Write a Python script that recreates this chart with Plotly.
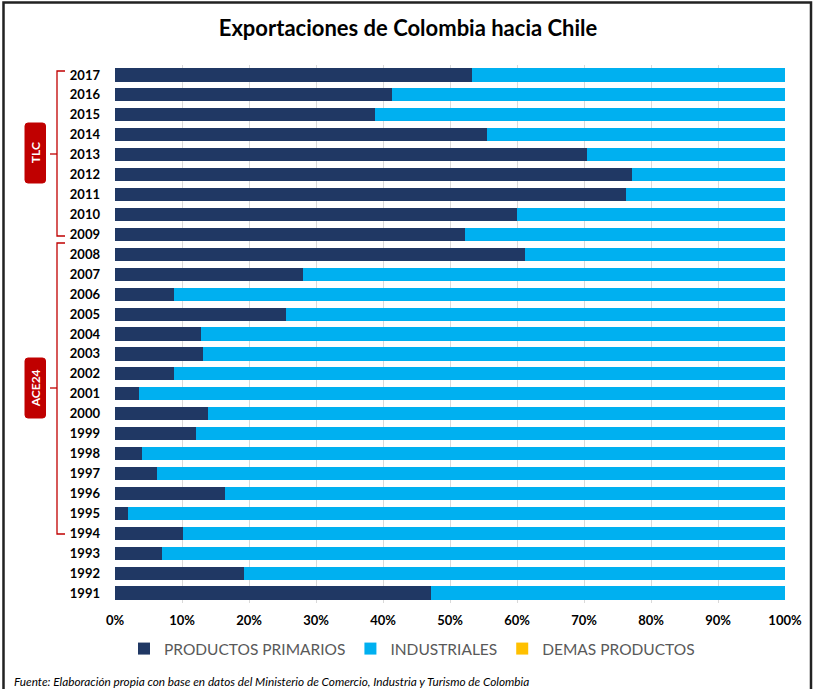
import plotly.graph_objects as go

# Share of Colombian exports to Chile by product group (% of total)
years = [str(y) for y in range(1991, 2018)]
primarios = [47.2, 19.3, 7.0, 10.1, 2.0, 16.4, 6.3, 4.0, 12.1, 13.9,
             3.6, 8.8, 13.2, 12.8, 25.5, 8.8, 28.0, 61.2, 52.2, 60.0,
             76.2, 77.1, 70.4, 55.5, 38.8, 41.3, 53.3]
demas = [0.0] * len(years)
industriales = [100.0 - p - d for p, d in zip(primarios, demas)]

x_ticks = [0, 10, 20, 30, 40, 50, 60, 70, 80, 90, 100]
x_tick_text = [f"{t}%" for t in x_ticks]

NAVY = "#203864"
CYAN = "#00B0F0"
GOLD = "#FFC000"
RED = "#C00000"
FONT = "Lato"

W, H = 813, 689
ML, MR, MT, MB = 115, 28, 65, 86
PW, PH = W - ML - MR, H - MT - MB


def px(x):
    return (x - ML) / PW


def py(y):
    return (H - MB - y) / PH


fig = go.Figure()
fig.add_trace(go.Bar(y=years, x=primarios, orientation="h", name="PRODUCTOS PRIMARIOS",
                     marker=dict(color=NAVY, line=dict(width=0)), width=0.66))
fig.add_trace(go.Bar(y=years, x=industriales, orientation="h", name="INDUSTRIALES",
                     marker=dict(color=CYAN, line=dict(width=0)), width=0.66))
fig.add_trace(go.Bar(y=years, x=demas, orientation="h", name="DEMAS PRODUCTOS",
                     marker=dict(color=GOLD, line=dict(width=0)), width=0.66))

shapes = []
annotations = []


def bracket(y_top, y_bot, y_mid, box_top, box_bot, label):
    xl = 57
    line = dict(color=RED, width=1.3)
    pts = [(65, y_top), (xl, y_top), (xl, y_bot), (65, y_bot)]
    path = "M " + " L ".join(f"{px(a)},{py(b)}" for a, b in pts)
    shapes.append(dict(type="path", xref="paper", yref="paper", path=path, line=line))
    shapes.append(dict(type="line", xref="paper", yref="paper",
                       x0=px(50), x1=px(xl), y0=py(y_mid), y1=py(y_mid), line=line))
    # rounded label box
    x0, x1, r = 25, 45.5, 3
    rx, ry = r / PW, r / PH
    a0, a1 = px(x0), px(x1)
    b0, b1 = py(box_bot), py(box_top)
    d = (f"M {a0+rx},{b0} L {a1-rx},{b0} Q {a1},{b0} {a1},{b0+ry} "
         f"L {a1},{b1-ry} Q {a1},{b1} {a1-rx},{b1} L {a0+rx},{b1} "
         f"Q {a0},{b1} {a0},{b1-ry} L {a0},{b0+ry} Q {a0},{b0} {a0+rx},{b0} Z")
    shapes.append(dict(type="path", xref="paper", yref="paper", path=d, layer="below",
                       fillcolor=RED, line=dict(color=RED, width=1)))
    annotations.append(dict(xref="paper", yref="paper", x=px((x0 + x1) / 2),
                            y=py((box_top + box_bot) / 2), text=f"<b>{label}</b>",
                            textangle=-90, showarrow=False,
                            xanchor="center", yanchor="middle",
                            font=dict(family=FONT, size=12, color="white")))


bracket(71, 236, 154, 123, 183, "TLC")
bracket(243, 534, 388, 358, 418, "ACE24")

# outer frame
shapes.append(dict(type="rect", xref="paper", yref="paper",
                   x0=px(3.5), x1=px(811), y0=py(700), y1=py(2.5),
                   line=dict(color="#222222", width=2.5), fillcolor="rgba(0,0,0,0)"))

annotations.append(dict(xref="paper", yref="paper", x=px(12), y=py(681),
                        xanchor="left", yanchor="middle", showarrow=False,
                        text="<i>Fuente: Elaboración propia con base en datos del Ministerio de Comercio, Industria y Turismo de Colombia</i>",
                        font=dict(family=FONT, size=11.8, color="#000000")))

fig.update_layout(
    width=W, height=H,
    margin=dict(l=ML, r=MR, t=MT, b=MB),
    barmode="stack",
    paper_bgcolor="white", plot_bgcolor="white",
    title=dict(text="<b>Exportaciones de Colombia hacia Chile</b>",
               x=408 / W, xref="container", xanchor="center", y=1 - 28 / H, yanchor="middle",
               font=dict(family=FONT, size=22, color="#000000")),
    xaxis=dict(range=[0, 100], tickvals=x_ticks,
               ticktext=[f"<b>{t}</b>" for t in x_tick_text],
               showgrid=True, gridcolor="#D9D9D9", gridwidth=1,
               zeroline=False, showline=False, ticks="",
               tickfont=dict(family=FONT, size=13, color="#000000"),
               ticklabelstandoff=8),
    yaxis=dict(type="category", categoryorder="array", categoryarray=years,
               range=[-0.5, len(years) - 0.5], showgrid=False, ticks="",
               tickprefix="<b>", ticksuffix="</b>",
               tickfont=dict(family=FONT, size=13, color="#000000"),
               ticklabelstandoff=14),
    legend=dict(orientation="h", x=px(412), xanchor="center",
                y=py(649), yanchor="middle",
                font=dict(family=FONT, size=15.5, color="#595959"),
                traceorder="normal"),
    shapes=shapes,
    annotations=annotations,
)

fig.write_html("out.html")
